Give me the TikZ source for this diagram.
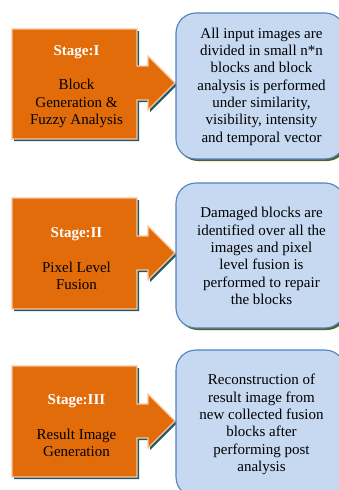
\documentclass[tikz,border=0pt]{standalone}
\usepackage{fontspec}
\setmainfont{Liberation Serif}
\definecolor{orangefill}{HTML}{E36C0A}
\definecolor{orangeedge}{HTML}{FAC69C}
\definecolor{tealshadow}{HTML}{215968}
\definecolor{bluefill}{HTML}{C6D9F1}
\definecolor{blueedge}{HTML}{4F81BD}
\definecolor{oliveshadow}{HTML}{4F6228}
\newcommand\stageshape[4]{%
  \draw[#4] (12,#1) -- (137,#1) -- (137,#3-17) -- (148,#3-17) -- (148,#3-27) -- (175,#3)
    -- (148,#3+27) -- (148,#3+17) -- (137,#3+17) -- (137,#2) -- (12,#2) -- cycle;}
\tikzset{
  shapeshadow/.style={fill=tealshadow, draw=none, shift={(2,2)}},
  shapemain/.style={fill=orangefill, draw=orangeedge, line width=1.1pt, line join=miter},
  bluebox/.style={fill=bluefill, draw=blueedge, line width=1.1pt, rounded corners=20pt,
    minimum width=169pt, inner sep=0pt},
  blueshadow/.style={fill=oliveshadow, draw=none, rounded corners=20pt,
    minimum width=169pt, inner sep=0pt},
  bluetext/.style={align=center, font=\fontsize{15}{17.3}\selectfont, text=black},
  stagetext/.style={align=center, font=\fontsize{15}{17.3}\selectfont, text=black},
}
\newcommand\stagehead[1]{\textcolor{white}{\textbf{#1}}}
\begin{document}
\begin{tikzpicture}[x=1pt, y=-1pt]
\useasboundingbox (0,0) rectangle (338,490);
% Stage I
\stageshape{29}{139}{83}{shapeshadow}
\stageshape{29}{139}{83}{shapemain}
\node[blueshadow, minimum height=146pt] (b1s) at (262.5,88) {};
\node[bluebox, minimum height=146pt] (b1) at (260.5,86) {};
\node[stagetext] (s1) at (76.5,86.5) {\stagehead{Stage:I}\\[17.3pt]Block\\Generation \&\\Fuzzy Analysis};
\node[bluetext] (t1) at (261.5,86.5) {All input images are\\divided in small n*n\\blocks and block\\analysis is performed\\under similarity,\\visibility, intensity\\and temporal vector};
% Stage II
\stageshape{198}{309}{253}{shapeshadow}
\stageshape{198}{309}{253}{shapemain}
\node[blueshadow, minimum height=145pt] (b2s) at (262.5,257.5) {};
\node[bluebox, minimum height=145pt] (b2) at (260.5,255.5) {};
\node[stagetext] (s2) at (76.5,258.5) {\stagehead{Stage:II}\\[17.3pt]Pixel Level\\Fusion};
\node[bluetext] (t2) at (261.5,256) {Damaged blocks are\\identified over all the\\images and pixel\\level fusion is\\performed to repair\\the blocks};
% Stage III
\stageshape{366}{477}{421}{shapeshadow}
\stageshape{366}{477}{421}{shapemain}
\node[blueshadow, minimum height=147pt] (b3s) at (262.5,425.5) {};
\node[bluebox, minimum height=147pt] (b3) at (260.5,423.5) {};
\node[stagetext] (s3) at (76.5,426) {\stagehead{Stage:III}\\[17.3pt]Result Image\\Generation};
\node[bluetext] (t3) at (261.5,424.5) {Reconstruction of\\result image from\\new collected fusion\\blocks after\\performing post\\analysis};
\end{tikzpicture}
\end{document}
